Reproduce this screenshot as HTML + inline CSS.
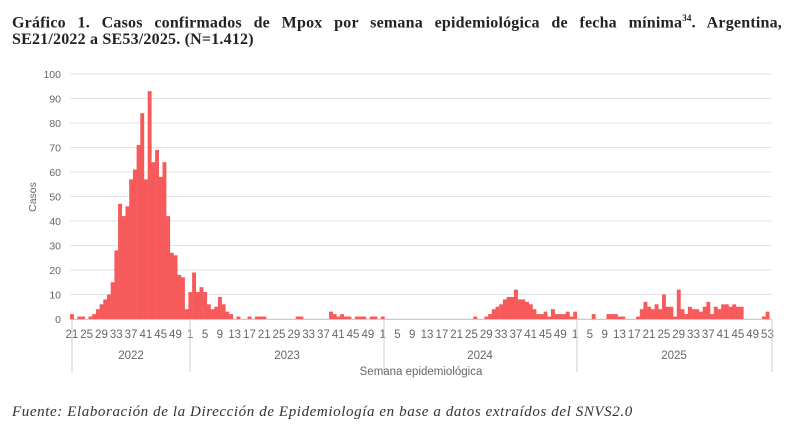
<!DOCTYPE html>
<html><head><meta charset="utf-8"><style>
body{margin:0;width:800px;height:434px;background:#fff;overflow:hidden;position:relative}
.t{position:absolute;left:12px;width:770px;font-family:"Liberation Serif",serif;font-weight:bold;font-size:16px;line-height:22px;color:#222;letter-spacing:0.2px}
.t1{top:7px;text-align:justify;text-align-last:justify}
.t2{top:29px}
.f{position:absolute;left:12px;top:404px;font-family:"Liberation Serif",serif;font-style:italic;font-size:15px;letter-spacing:0.6px;color:#333}
svg{position:absolute;left:0;top:0}
</style></head><body>
<div class="t t1">Gráfico 1. Casos confirmados de Mpox por semana epidemiológica de fecha mínima<sup style="font-size:9px">34</sup>. Argentina,</div>
<div class="t t2">SE21/2022 a SE53/2025. (N=1.412)</div>
<svg id="c" width="800" height="434" font-family="Liberation Sans, sans-serif"></svg>
<div class="f">Fuente: Elaboración de la Dirección de Epidemiología en base a datos extraídos del SNVS2.0</div>
<script>
var y22=[2,0,1,1,0,1,2,4,6,8,10,15,28,47,42,46,57,61,71,84,57,93,64,69,58,64,42,27,26,18,17,4];
var y23=[11,19,11,13,11,6,4,5,9,6,3,2,0,1,0,0,1,0,1,1,1,0,0,0,0,0,0,0,0,1,1,0,0,0,0,0,0,0,3,2,1,2,1,1,0,1,1,1,0,1,1,0];
var y24=new Array(52).fill(0);y24[0]=1;
var v24={26:1,29:1,30:2,31:4,32:5,33:6,34:8,35:9,36:9,37:12,38:8,39:8,40:7,41:6,42:4,43:2,44:2,45:3,46:1,47:4,48:2,49:2,50:2,51:3,52:1};
for(var k in v24)y24[k-1]=v24[k];
var y25=[3,0,0,0,0,2,0,0,0,2,2,2,1,1,0,0,0,1,4,7,5,4,6,4,10,5,5,1,12,4,2,5,4,4,3,5,7,2,5,4,6,6,5,6,5,5,0,0,0,0,0,1,3];
var d=y22.concat(y23,y24,y25),x0=70,w=3.7,b=319,s=2.45,h='';
for(var i=0;i<=10;i++){var yy=b-i*10*s;h+='<line x1="70" x2="772" y1="'+yy+'" y2="'+yy+'" stroke="#e3e3e3"/><text x="61" y="'+(yy+4)+'" text-anchor="end" font-size="10.5" fill="#666">'+(i*10)+'</text>';}
for(var i=0;i<d.length;i++){if(d[i]>0)h+='<rect x="'+(x0+i*w)+'" y="'+(b-d[i]*s)+'" width="'+(w+0.2)+'" height="'+(d[i]*s)+'" fill="#f65a5a"/>';}
h+='<line x1="70" x2="772" y1="319.5" y2="319.5" stroke="#ccc"/>';
function lab(idx,t){h+='<text x="'+(x0+idx*w+w/2)+'" y="338" text-anchor="middle" font-size="11.5" fill="#666">'+t+'</text>';}
for(var wk=21;wk<=49;wk+=4)lab(wk-21,wk);
for(var yr=0;yr<3;yr++){var off=32+52*yr;for(var wk=1;wk<=(yr==2?53:49);wk+=4)lab(off+wk-1,wk);}
[72,190,384,577,772].forEach(function(x){h+='<line x1="'+x+'" x2="'+x+'" y1="320" y2="372" stroke="#ccc"/>';});
[[131,'2022'],[287,'2023'],[480,'2024'],[674,'2025']].forEach(function(a){h+='<text x="'+a[0]+'" y="359" text-anchor="middle" font-size="11.5" fill="#666">'+a[1]+'</text>';});
h+='<text x="421" y="375" text-anchor="middle" font-size="11.5" fill="#666">Semana epidemiológica</text>';
h+='<text transform="translate(36,197) rotate(-90)" text-anchor="middle" font-size="10.5" fill="#666">Casos</text>';
document.getElementById('c').innerHTML=h;
</script>
</body></html>
